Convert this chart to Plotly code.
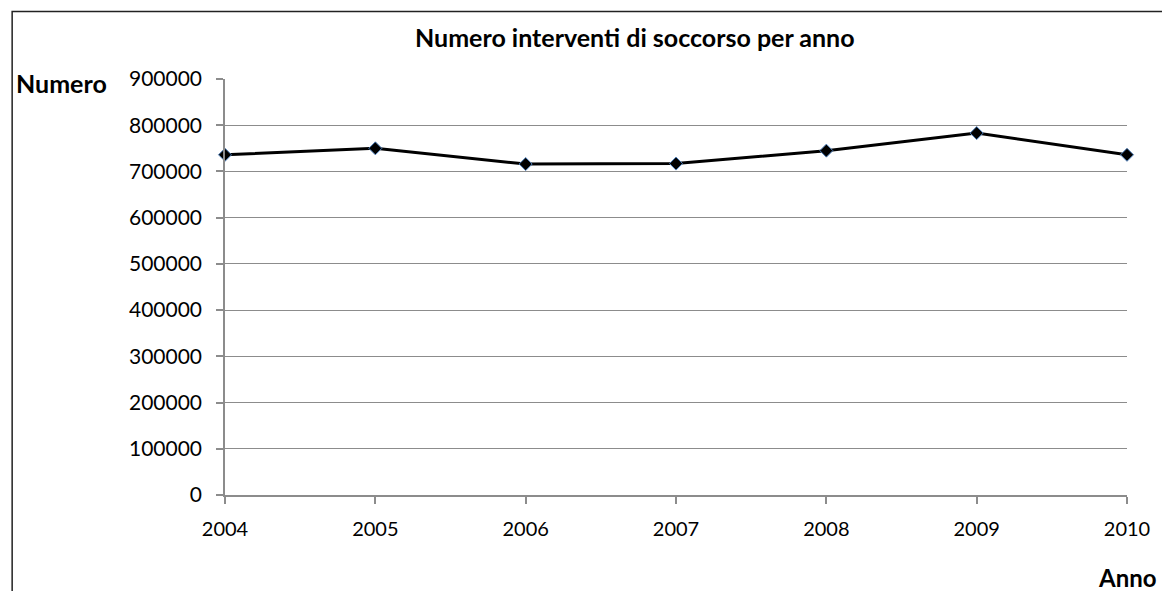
import plotly.graph_objects as go

# Annual rescue interventions
anni = [2004, 2005, 2006, 2007, 2008, 2009, 2010]
interventi = [736000, 750000, 716000, 717000, 745000, 783000, 736000]

y_ticks = [0, 100000, 200000, 300000, 400000, 500000, 600000, 700000, 800000, 900000]

FONT = "Lato"
GRID = "#8c8c8c"

W, H = 1162, 591
ML, MR, MT, MB = 225, 28, 79, 96
PW, PH = W - ML - MR, H - MT - MB


def px_x(x):
    return (x - ML) / PW


def px_y(y):
    return (H - MB - y) / PH


fig = go.Figure()
fig.add_trace(go.Scatter(
    x=anni,
    y=interventi,
    mode="lines+markers",
    line=dict(color="black", width=3),
    marker=dict(symbol="diamond", size=10, color="black",
                line=dict(color="#4f81bd", width=1)),
    showlegend=False,
    cliponaxis=False,
))

fig.update_layout(
    width=W, height=H,
    margin=dict(l=ML, r=MR, t=MT, b=MB, pad=0),
    paper_bgcolor="white",
    plot_bgcolor="white",
    font=dict(family=FONT, size=20, color="black"),
    xaxis=dict(
        range=[2004, 2010],
        tickmode="array",
        tickvals=anni,
        ticktext=[str(a) for a in anni],
        showgrid=False,
        showline=True, linecolor=GRID, linewidth=1.5,
        ticks="outside", ticklen=7, tickcolor=GRID, tickwidth=1.5,
        ticklabelstandoff=8,
        tickfont=dict(family=FONT, size=20, color="black"),
        zeroline=False,
    ),
    yaxis=dict(
        range=[0, 900000],
        tickmode="array",
        tickvals=y_ticks,
        ticktext=[str(v) for v in y_ticks],
        showgrid=True, gridcolor=GRID, gridwidth=1.2,
        showline=True, linecolor=GRID, linewidth=1.5,
        ticks="outside", ticklen=7, tickcolor=GRID, tickwidth=1.5,
        ticklabelstandoff=10,
        tickfont=dict(family=FONT, size=21, color="black"),
        zeroline=False,
    ),
    shapes=[
        dict(type="rect", xref="paper", yref="paper",
             x0=px_x(10.5), x1=px_x(W + 20), y0=px_y(H + 20), y1=px_y(11.5),
             line=dict(color="#222222", width=1.5), fillcolor="rgba(0,0,0,0)",
             layer="below"),
    ],
    annotations=[
        dict(text="<b>Numero interventi di soccorso per anno</b>",
             xref="paper", yref="paper", x=px_x(638), y=px_y(37),
             xanchor="center", yanchor="middle", showarrow=False,
             font=dict(family=FONT, size=25, color="black")),
        dict(text="<b>Numero</b>",
             xref="paper", yref="paper", x=px_x(12), y=px_y(83),
             xanchor="left", yanchor="middle", showarrow=False,
             font=dict(family=FONT, size=25, color="black")),
        dict(text="<b>Anno</b>",
             xref="paper", yref="paper", x=px_x(1166), y=px_y(577),
             xanchor="right", yanchor="middle", showarrow=False,
             font=dict(family=FONT, size=24, color="black")),
    ],
)

fig.write_html("out.html")
